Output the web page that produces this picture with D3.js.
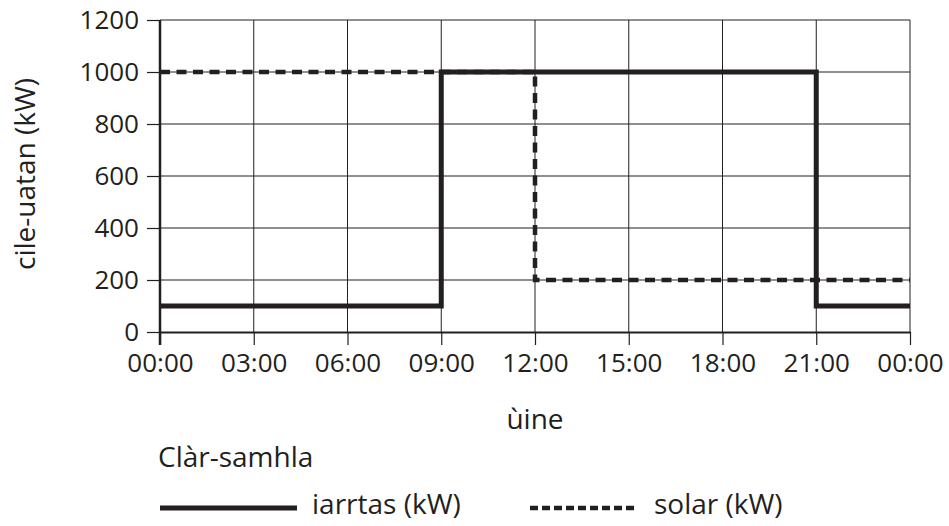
<!DOCTYPE html>
<html><head><meta charset="utf-8">
<script src="https://cdn.jsdelivr.net/npm/d3@7"></script>
<style>
body{margin:0;background:#fff;}
text{font-family:"Open Sans",sans-serif;fill:#231f20;}
</style></head>
<body><svg id="c" width="949" height="526"></svg>
<script>
const xTickHours = [0, 3, 6, 9, 12, 15, 18, 21, 24];
const xTickLabels = ["00:00","03:00","06:00","09:00","12:00","15:00","18:00","21:00","00:00"];
const yTicks = [0, 200, 400, 600, 800, 1000, 1200];
const demandHours = [0, 9, 21, 24];
const demandValues = [100, 1000, 100, 100];
const solarHours = [0, 12, 24];
const solarValues = [1000, 200, 200];
const yTitle = "cile-uatan (kW)";
const xTitle = "ùine";
const legendTitle = "Clàr-samhla";
const seriesNames = ["iarrtas (kW)", "solar (kW)"];

const ink = "#231f20";
const svg = d3.select("#c");
const x = d3.scaleLinear().domain([0, 24]).range([160, 910]);
const y = d3.scaleLinear().domain([0, 1200]).range([332, 20]);

// grid
const g = svg.append("g");
g.selectAll(".hg").data(yTicks.slice(1)).join("line")
  .attr("x1", x(0)).attr("x2", x(24)).attr("y1", d=>y(d)).attr("y2", d=>y(d))
  .attr("stroke", ink).attr("stroke-width", 1);
g.selectAll(".vg").data(xTickHours.slice(1)).join("line")
  .attr("x1", d=>x(d)).attr("x2", d=>x(d)).attr("y1", y(1200)).attr("y2", y(0))
  .attr("stroke", ink).attr("stroke-width", 1);

// axes
const xAxis = d3.axisBottom(x).tickValues(xTickHours).tickFormat((d,i)=>xTickLabels[i])
  .tickSizeInner(13).tickSizeOuter(0).tickPadding(9);
const xa = svg.append("g").attr("transform", `translate(0,${y(0)})`).call(xAxis);
xa.select(".domain").attr("stroke", ink).attr("stroke-width", 2);
xa.selectAll(".tick line").attr("stroke", ink).attr("stroke-width", 1.2);
xa.selectAll("text").attr("font-size", 26).attr("font-family", "Open Sans, sans-serif").attr("fill", ink);

const yAxis = d3.axisLeft(y).tickValues(yTicks).tickFormat(d3.format("d"))
  .tickSizeInner(13).tickSizeOuter(0).tickPadding(8);
const ya = svg.append("g").attr("transform", `translate(${x(0)},0)`).call(yAxis);
ya.select(".domain").remove();
ya.selectAll(".tick line").attr("stroke", ink).attr("stroke-width", 1.2);
ya.selectAll("text").attr("font-size", 26).attr("font-family", "Open Sans, sans-serif").attr("fill", ink);
svg.append("line").attr("x1", x(0)).attr("x2", x(0)).attr("y1", y(1200)).attr("y2", y(0)+13)
  .attr("stroke", ink).attr("stroke-width", 2.5);

// data lines
const line = d3.line().x(d=>x(d[0])).y(d=>y(d[1])).curve(d3.curveStepAfter);
svg.append("path").datum(solarHours.map((h,i)=>[h, solarValues[i]]))
  .attr("d", line).attr("fill", "none").attr("stroke", ink).attr("stroke-width", 4.5)
  .attr("stroke-dasharray", "10,6.5");
svg.append("path").datum(demandHours.map((h,i)=>[h, demandValues[i]]))
  .attr("d", line).attr("fill", "none").attr("stroke", ink).attr("stroke-width", 5);

// titles
svg.append("text").attr("transform", "translate(35,174) rotate(-90)")
  .attr("text-anchor", "middle").attr("font-size", 28).text(yTitle);
svg.append("text").attr("x", 535).attr("y", 429).attr("text-anchor", "middle").attr("font-size", 28).text(xTitle);
svg.append("text").attr("x", 158).attr("y", 467).attr("font-size", 28).text(legendTitle);

// legend
svg.append("line").attr("x1", 160).attr("x2", 297).attr("y1", 508).attr("y2", 508)
  .attr("stroke", ink).attr("stroke-width", 5);
svg.append("text").attr("x", 312).attr("y", 514).attr("font-size", 28).text(seriesNames[0]);
svg.append("line").attr("x1", 530).attr("x2", 637).attr("y1", 508).attr("y2", 508)
  .attr("stroke", ink).attr("stroke-width", 4.5).attr("stroke-dasharray", "8,4");
svg.append("text").attr("x", 654).attr("y", 514).attr("font-size", 28).text(seriesNames[1]);
</script></body></html>
